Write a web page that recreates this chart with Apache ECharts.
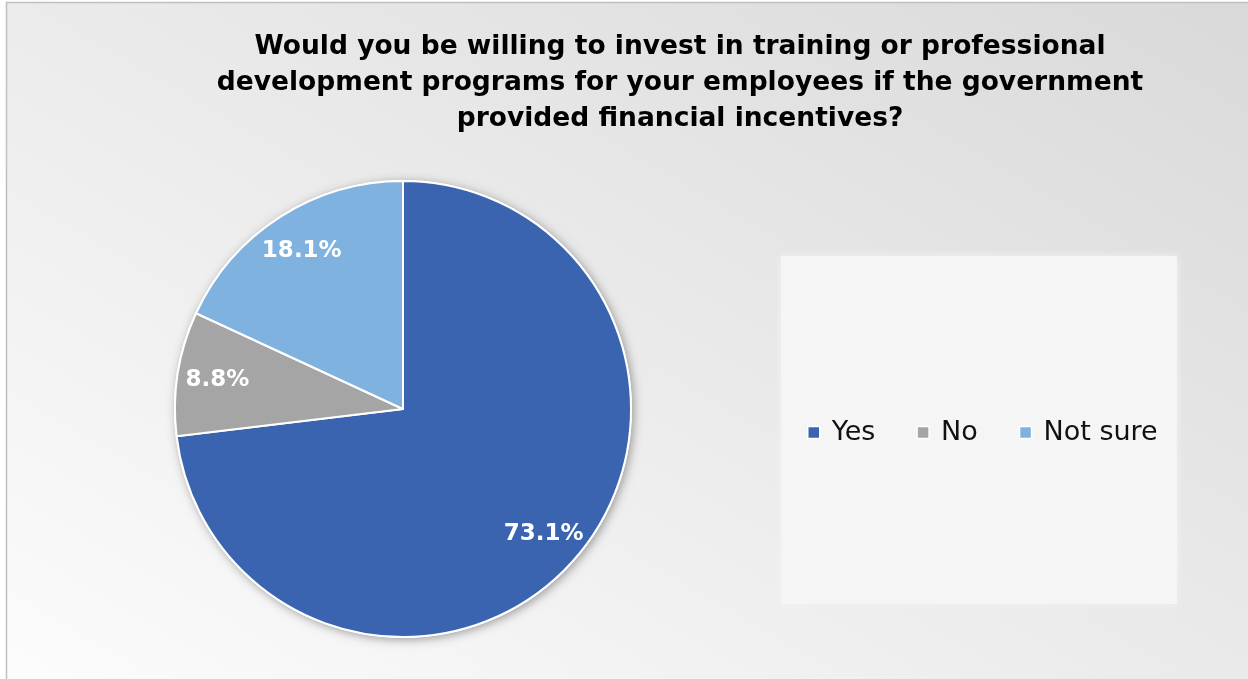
<!DOCTYPE html>
<html>
<head>
<meta charset="utf-8">
<script src="https://cdn.jsdelivr.net/npm/echarts@6/dist/echarts.min.js"></script>
<style>
  html, body { margin: 0; padding: 0; background: #fff; }
  #chart { width: 1248px; height: 679px; }
</style>
</head>
<body>
<div id="chart"></div>
<script>
'use strict';

const titleText = 'Would you be willing to invest in training or professional\ndevelopment programs for your employees if the government\nprovided financial incentives?';
const categories = ['Yes', 'No', 'Not sure'];
const values = [73.1, 8.8, 18.1];
const colors = ['#3A64B0', '#A5A5A5', '#80B2E0'];

const pieData = categories.map((c, i) => ({ name: c, value: values[i], itemStyle: { color: colors[i] } }));
const center = [403, 409];
const radius = 228;

const chart = echarts.init(document.getElementById('chart'));

const option = {
  backgroundColor: 'transparent',
  animation: false,
  graphic: [
    {
      type: 'rect',
      z: -10,
      silent: true,
      shape: { x: 6.5, y: 2.5, width: 1300, height: 720 },
      style: {
        // global coords: gray at top right, near white at bottom left
        fill: new echarts.graphic.LinearGradient(1248, 0, 640, 1048, [
          { offset: 0, color: '#d9d9d9' },
          { offset: 1, color: '#fcfcfc' }
        ], true),
        stroke: '#bfbfbf',
        lineWidth: 1.5
      }
    },
    {
      type: 'rect',
      z: -9,
      silent: true,
      shape: { x: 781, y: 256, width: 396, height: 348 },
      style: {
        fill: '#f5f5f5',
        shadowBlur: 8,
        shadowColor: '#f3f3f3'
      }
    }
  ],
  title: {
    text: titleText,
    left: 680,
    textAlign: 'center',
    top: 29,
    padding: 0,
    textStyle: {
      fontFamily: 'DejaVu Sans',
      fontWeight: 'bold',
      fontSize: 26.5,
      lineHeight: 36,
      color: '#000'
    }
  },
  legend: {
    data: categories,
    left: 802,
    top: 414,
    icon: 'rect',
    itemWidth: 12,
    itemHeight: 12,
    itemGap: 41,
    itemStyle: { borderColor: '#fff', borderWidth: 1.5 },
    textStyle: {
      fontFamily: 'DejaVu Sans',
      fontSize: 27,
      color: '#111',
      padding: [0, 0, 0, 7]
    },
    selectedMode: false
  },
  series: [
    {
      type: 'pie',
      name: 'main',
      center: center,
      radius: [0, radius],
      startAngle: 90,
      z: 3,
      data: pieData,
      itemStyle: { borderColor: '#fff', borderWidth: 2 },
      label: { show: false },
      labelLine: { show: false },
      emphasis: { disabled: true },
      silent: true
    },
    {
      type: 'pie',
      name: 'shadow',
      center: center,
      radius: [0, radius + 1],
      startAngle: 90,
      z: 1,
      data: pieData.map(d => ({ name: d.name, value: d.value })),
      itemStyle: {
        color: '#fff',
        shadowBlur: 10,
        shadowColor: 'rgba(0,0,0,0.35)',
        shadowOffsetX: 2,
        shadowOffsetY: 2
      },
      label: { show: false },
      labelLine: { show: false },
      emphasis: { disabled: true },
      silent: true
    },
    {
      type: 'pie',
      name: 'labels',
      center: center,
      radius: [142, radius],
      startAngle: 90,
      z: 4,
      data: pieData.map(d => ({ name: d.name, value: d.value })),
      itemStyle: { color: 'rgba(0,0,0,0)' },
      label: {
        show: true,
        position: 'inside',
        formatter: p => p.value.toFixed(1) + '%',
        fontFamily: 'DejaVu Sans',
        fontWeight: 'bold',
        fontSize: 23,
        color: '#fff'
      },
      labelLine: { show: false },
      emphasis: { disabled: true },
      silent: true
    }
  ]
};

chart.setOption(option);
</script>
</body>
</html>
